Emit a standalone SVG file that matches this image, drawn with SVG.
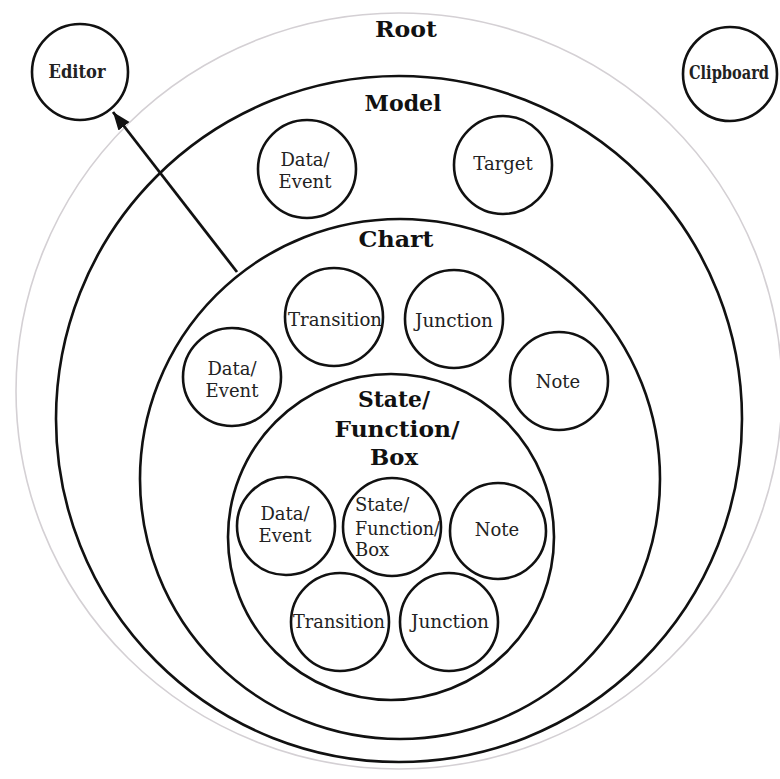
<svg xmlns="http://www.w3.org/2000/svg" width="780" height="779" viewBox="0 0 780 779">
<style>
.c{fill:none;stroke:#111;stroke-width:2.6}
.root{fill:none;stroke:#d4d0d4;stroke-width:1.6}
.t{font-family:"DejaVu Serif","Liberation Serif",serif;font-size:18px;fill:#222;text-anchor:middle}
.b{font-family:"DejaVu Serif","Liberation Serif",serif;font-size:22px;font-weight:bold;fill:#111;text-anchor:middle}
.l{font-family:"DejaVu Serif","Liberation Serif",serif;font-size:18px;fill:#222}
</style>
<defs>
<marker id="ah" markerUnits="userSpaceOnUse" markerWidth="20" markerHeight="16" refX="18" refY="8" orient="auto">
<path d="M0,1 L18,8 L0,15 Z" fill="#111"/>
</marker>
</defs>
<rect width="780" height="779" fill="#fff"/>
<g id="root">
<ellipse class="root" cx="399" cy="391" rx="383" ry="378"/>
<text class="b" x="406" y="37" textLength="62" lengthAdjust="spacingAndGlyphs">Root</text>
</g>
<g id="model">
<circle class="c" cx="399" cy="419" r="343"/>
<text class="b" x="403" y="111" textLength="77" lengthAdjust="spacingAndGlyphs">Model</text>
</g>
<g id="chart">
<circle class="c" cx="400" cy="479" r="260"/>
<text class="b" x="396" y="247" textLength="75" lengthAdjust="spacingAndGlyphs">Chart</text>
</g>
<g id="statebox">
<circle class="c" cx="391" cy="537" r="163"/>
<text class="b" x="394" y="407" textLength="72" lengthAdjust="spacingAndGlyphs">State/</text>
<text class="b" x="397" y="437" textLength="125" lengthAdjust="spacingAndGlyphs">Function/</text>
<text class="b" x="394" y="465" textLength="48" lengthAdjust="spacingAndGlyphs">Box</text>
</g>
<g id="editor">
<circle class="c" cx="80" cy="72" r="48"/>
<text class="t" x="77" y="78" font-size="16" font-weight="bold" textLength="57" lengthAdjust="spacingAndGlyphs">Editor</text>
</g>
<g id="clipboard">
<circle class="c" cx="730" cy="74" r="47"/>
<text class="t" x="729" y="79" font-size="15" font-weight="bold" textLength="80" lengthAdjust="spacingAndGlyphs">Clipboard</text>
</g>
<g id="model-data-event">
<circle class="c" cx="307" cy="169" r="49"/>
<text class="t" x="305" y="166">Data/</text>
<text class="t" x="305" y="188">Event</text>
</g>
<g id="model-target">
<circle class="c" cx="503" cy="165" r="49"/>
<text class="t" x="503" y="170">Target</text>
</g>
<g id="chart-transition">
<circle class="c" cx="334" cy="317" r="49"/>
<text class="t" x="335" y="326" textLength="94" lengthAdjust="spacingAndGlyphs">Transition</text>
</g>
<g id="chart-junction">
<circle class="c" cx="454" cy="319" r="49"/>
<text class="t" x="454" y="327" textLength="78" lengthAdjust="spacingAndGlyphs">Junction</text>
</g>
<g id="chart-data-event">
<circle class="c" cx="232" cy="377" r="49"/>
<text class="t" x="232" y="375">Data/</text>
<text class="t" x="232" y="397">Event</text>
</g>
<g id="chart-note">
<circle class="c" cx="559" cy="381" r="49"/>
<text class="t" x="558" y="388">Note</text>
</g>
<g id="sfb-data-event">
<circle class="c" cx="286" cy="526" r="49"/>
<text class="t" x="285" y="520">Data/</text>
<text class="t" x="285" y="542">Event</text>
</g>
<g id="sfb-state">
<circle class="c" cx="392" cy="527" r="49"/>
<text class="l" x="355" y="511">State/</text>
<text class="l" x="355" y="535" textLength="85" lengthAdjust="spacingAndGlyphs">Function/</text>
<text class="l" x="355" y="556">Box</text>
</g>
<g id="sfb-note">
<circle class="c" cx="498" cy="531" r="48"/>
<text class="t" x="497" y="536">Note</text>
</g>
<g id="sfb-transition">
<circle class="c" cx="340" cy="622" r="49"/>
<text class="t" x="339" y="628" textLength="92" lengthAdjust="spacingAndGlyphs">Transition</text>
</g>
<g id="sfb-junction">
<circle class="c" cx="449" cy="622" r="49"/>
<text class="t" x="450" y="628" textLength="78" lengthAdjust="spacingAndGlyphs">Junction</text>
</g>
<g id="connectors">
<line x1="237" y1="272" x2="113" y2="112" stroke="#111" stroke-width="2.8" marker-end="url(#ah)"/>
</g>
</svg>
